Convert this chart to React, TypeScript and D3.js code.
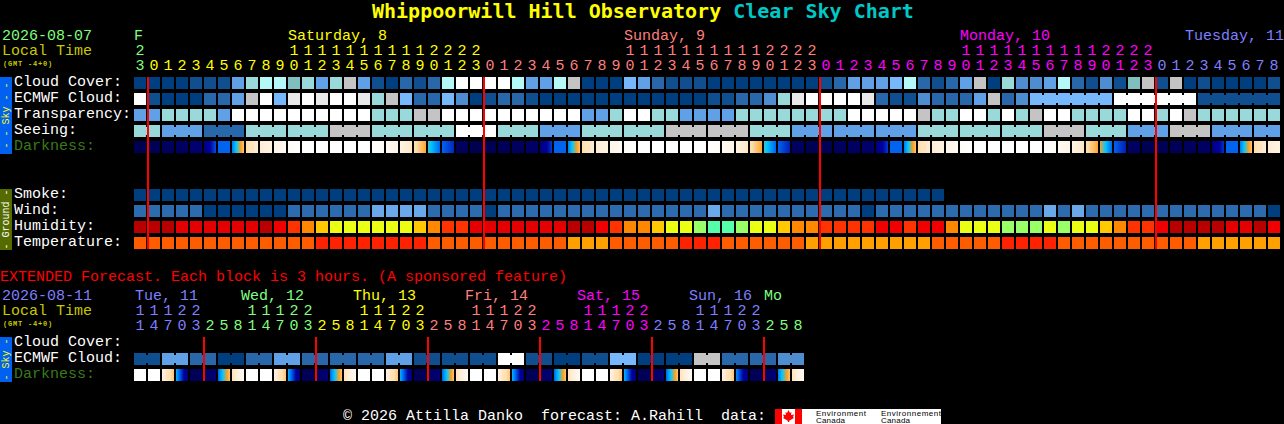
import { useRef, useEffect } from 'react'
import * as d3 from 'd3'

// main chart, one column per hour
const hourLabels = [23,
  0, 1, 2, 3, 4, 5, 6, 7, 8, 9, 10, 11, 12, 13, 14, 15, 16, 17, 18, 19, 20, 21, 22, 23,
  0, 1, 2, 3, 4, 5, 6, 7, 8, 9, 10, 11, 12, 13, 14, 15, 16, 17, 18, 19, 20, 21, 22, 23,
  0, 1, 2, 3, 4, 5, 6, 7, 8, 9, 10, 11, 12, 13, 14, 15, 16, 17, 18, 19, 20, 21, 22, 23,
  0, 1, 2, 3, 4, 5, 6, 7, 8]
const dayBreaks = [1, 25, 49, 73]
const dayColors = ['#7fff7f', '#ffff00', '#ff7f7f', '#ff00ff', '#7f7fff']
const midnightCols = [1, 25, 49, 73]

// sky levels index into skyPalette
const cloudCover = [0,0,0,0,1,1,1,4,7,8,8,6,7,4,7,9,4,1,0,2,1,2,8,11,11,11,11,8,4,4,8,9,0,0,0,5,4,2,1,1,1,0,0,0,0,0,0,0,0,1,2,4,4,4,5,8,2,1,2,4,9,0,7,3,3,4,8,2,1,3,1,6,9,1,9,0,1,0,0,0,0,1]
const ecmwfCloud = [11,1,0,0,0,2,2,4,9,11,5,10,11,10,11,11,10,7,9,5,2,2,5,3,0,1,2,2,1,0,0,0,0,0,0,0,0,0,0,0,0,1,1,2,2,3,7,10,11,11,11,11,10,2,1,1,3,2,2,2,4,9,2,3,5,5,5,5,5,5,11,11,11,11,11,11,1,1,1,1,1,1]
const transparency = [4,4,7,7,7,7,4,11,11,11,11,11,11,11,11,11,11,7,7,7,9,9,11,11,11,11,11,11,11,11,11,11,4,4,7,11,11,7,7,4,4,4,4,7,7,7,7,7,7,7,7,11,11,11,11,11,9,7,7,11,11,7,11,7,9,11,11,7,7,7,7,11,11,7,11,9,7,7,7,7,7,7]
const seeing = [7,7,4,4,4,2,2,2,7,7,7,7,7,7,9,9,9,7,7,7,7,7,7,11,11,11,7,7,7,4,4,4,7,7,7,7,7,7,9,9,9,9,9,9,7,7,7,4,4,4,4,4,4,4,4,4,7,7,7,7,7,7,7,7,7,9,9,9,7,7,7,4,4,4,9,9,9,4,4,4,4,4]
const smoke = [0,0,0,0,0,0,0,0,0,0,0,0,0,0,0,0,0,0,0,0,0,0,0,0,0,0,0,0,0,0,0,0,0,0,0,0,0,0,0,0,0,0,0,0,0,0,0,0,0,0,0,0,0,0,0,0,0,0]
const wind = [2,2,2,2,2,0,0,0,0,0,0,2,2,2,2,2,2,4,4,4,4,2,2,2,2,0,2,2,2,2,2,2,2,2,2,2,2,2,2,2,2,4,2,2,2,2,2,2,2,2,2,2,0,2,2,2,2,2,2,2,2,2,2,2,2,4,2,4,2,2,2,2,2,2,2,2,2,2,2,2,2,0]
const humidity = [0,0,0,1,1,1,1,1,1,0,2,3,4,5,6,6,6,6,6,6,5,4,3,3,1,1,1,1,1,1,1,0,0,2,3,4,4,5,6,6,7,8,8,7,6,6,5,4,4,3,3,3,3,2,2,3,2,2,4,6,6,6,7,7,7,6,7,6,6,5,4,3,3,2,0,0,0,0,1,1,0,2]
const temperature = [1,1,1,1,1,1,1,1,1,1,1,1,1,0,0,0,0,0,0,0,0,1,1,1,1,1,1,1,1,1,1,2,2,2,1,1,1,1,1,0,0,0,1,1,1,1,1,1,2,2,2,2,2,2,2,2,2,1,1,1,1,1,0,0,0,0,1,1,1,1,1,1,1,1,1,1,2,2,2,2,2,2]

// darkness at the left and right edge of each block, 0 is daylight and 8 deep night
const darkStart = [7.9,7.8,7.6,7.5,7.2,6.8,5,4.8,1.9,1.2,.7,.2,0,0,0,0,0,.05,.3,.8,1.8,3.7,5,7.6,7.9,7.8,7.7,7.6,7.4,6.9,5,4.8,1.9,1.2,.7,.2,0,0,0,0,0,.05,.3,.8,1.8,3.7,5,7.5,7.8,7.8,7.6,7.5,7.3,6.8,5,4.8,1.9,1.2,.7,.2,0,0,0,0,0,.05,.3,.8,1.8,3.1,5,7.5,7.8,7.8,7.7,7.6,7.5,6.8,5,4.8,1.9,1.2]
const darkEnd = [7.9,7.8,7.6,7.5,7.2,5.2,5,2.4,1.2,.8,.3,0,0,0,0,0,0,.2,.7,1.4,2.9,5,5.6,7.6,7.9,7.8,7.7,7.6,7.4,5.4,5,2.4,1.2,.8,.3,0,0,0,0,0,0,.2,.7,1.4,2.9,5,5.7,7.5,7.8,7.8,7.6,7.5,7.3,5.4,5,2.4,1.2,.8,.3,0,0,0,0,0,0,.2,.7,1.4,2.9,5,5.7,7.5,7.8,7.8,7.7,7.6,7.5,5.5,5,2.4,1.2,.8]

// extended chart, one column per 3 hours
const extHourLabels = [11, 14, 17, 20, 23,
  2, 5, 8, 11, 14, 17, 20, 23,
  2, 5, 8, 11, 14, 17, 20, 23,
  2, 5, 8, 11, 14, 17, 20, 23,
  2, 5, 8, 11, 14, 17, 20, 23,
  2, 5, 8, 11, 14, 17, 20, 23,
  2, 5, 8]
const extDayBreaks = [5, 13, 21, 29, 37, 45]
const extDayColors = ['#7f7fff', '#7fff7f', '#ffff00', '#ff7f7f', '#ff00ff', '#7f7fff', '#7fff7f']
const extDayNames = ['Tue, 11', 'Wed, 12', 'Thu, 13', 'Fri, 14', 'Sat, 15', 'Sun, 16', 'Mo']
const extDayCols = [0, 8, 16, 24, 32, 40, 45]
const extMidnightCols = [5, 13, 21, 29, 37, 45]
const extEcmwf = [1,1,4,4,2,2,0,0,2,2,4,4,2,2,2,2,2,2,4,4,1,1,1,1,1,1,11,11,1,1,0,0,1,1,5,5,0,0,0,0,9,9,2,2,2,2,3,3]
const extDarkStart = [0,0,.9,4.2,7.7,7.6,5,1.6,0,0,.9,4.2,7.7,7.6,5,1.6,0,0,.9,4.2,7.7,7.6,5,1.6,0,0,.9,4.2,7.7,7.6,5,1.6,0,0,.9,4.2,7.7,7.6,5,1.6,0,0,.9,4.6,7.7,7.6,4.8,1.6]
const extDarkEnd = [0,0,2.4,6.9,7.7,7,2.4,.4,0,0,2.4,6.9,7.7,7,2.4,.4,0,0,2.4,6.9,7.7,7,2.4,.3,0,0,2.4,6.9,7.7,7,2.4,.3,0,0,2.4,6.9,7.7,7,2.4,.3,0,0,2.4,6.9,7.7,7,2.4,.3]

const skyPalette = ['#003f7f', '#0f4f8f', '#2868aa', '#4d8dd0', '#5fa0e6', '#77b7fb', '#7fbfbf', '#99d9d9', '#b5f8f8', '#c4c4c4', '#e9e9e9', '#ffffff']
const windPalette = ['#003f7f', '#0f4f8f', '#2c6cae', '#4d8dd0', '#69a9e9']
const humidityPalette = ['#b80000', '#e40000', '#f00000', '#ff3300', '#ff8800', '#ffc800', '#eaff14', '#99ff66', '#55ffaa']
const temperaturePalette = ['#ff2200', '#ff5c00', '#ffa000']
const darkDomain = [0, 1, 2, 3, 4, 5, 6, 7, 8]
const darkColors = ['#ffffff', '#fff0dc', '#ffdca8', '#ffa020', '#00c8ff', '#0064f0', '#0000a0', '#000078', '#00004c']

const MONO = '"Liberation Mono", monospace'
const TITLE_FONT = '"DejaVu Sans Mono", monospace'
const CELL_STEP = 14

type G = d3.Selection<SVGGElement, unknown, null, undefined>

function columnScale(count: number) {
  return d3.scaleBand<number>()
    .domain(d3.range(count))
    .range([134, 134 + CELL_STEP * count - 2])
    .paddingInner(2 / CELL_STEP)
}

// blocks of the same forecast step are joined by a narrower bridge
function drawRow(
  g: G,
  values: number[],
  x: d3.ScaleBand<number>,
  y: number,
  palette: string[],
  stepOf?: (i: number) => number | null
) {
  const size = x.bandwidth()
  g.selectAll(null)
    .data(values)
    .enter()
    .append('rect')
    .attr('x', (_, i) => x(i)!)
    .attr('y', y)
    .attr('width', size)
    .attr('height', size)
    .attr('fill', d => palette[d])

  if (!stepOf) return
  const bridges = values.slice(0, -1).map((_, i) => i).filter(i => {
    const a = stepOf(i)
    return a !== null && a === stepOf(i + 1)
  })
  g.selectAll(null)
    .data(bridges)
    .enter()
    .append('rect')
    .attr('x', i => x(i)! + size)
    .attr('y', y + 2)
    .attr('width', x.step() - size)
    .attr('height', size - 4)
    .attr('fill', i => palette[values[i]])
}

function drawDarkness(
  svg: d3.Selection<SVGSVGElement, unknown, null, undefined>,
  g: G,
  id: string,
  starts: number[],
  ends: number[],
  x: d3.ScaleBand<number>,
  y: number
) {
  const color = d3.scaleLinear<string>().domain(darkDomain).range(darkColors)
  const defs = svg.append('defs')
  const size = x.bandwidth()
  starts.forEach((start, i) => {
    const end = ends[i]
    let fill = color(start)
    if (start !== end) {
      const grad = defs.append('linearGradient').attr('id', `${id}-${i}`)
      d3.range(0, 13).forEach(k => {
        grad.append('stop')
          .attr('offset', k / 12)
          .attr('stop-color', color(start + (end - start) * k / 12))
      })
      fill = `url(#${id}-${i})`
    }
    g.append('rect')
      .attr('x', x(i)!)
      .attr('y', y)
      .attr('width', size)
      .attr('height', size)
      .attr('fill', fill)
  })
}

function drawHours(
  g: G,
  hours: number[],
  x: d3.ScaleBand<number>,
  color: (i: number) => string,
  tensY: number,
  unitsY: number
) {
  const center = (i: number) => x(i)! + x.bandwidth() / 2
  hours.forEach((h, i) => {
    if (h >= 10) {
      g.append('text').attr('x', center(i)).attr('y', tensY)
        .attr('text-anchor', 'middle').attr('fill', color(i))
        .text(Math.floor(h / 10))
    }
    g.append('text').attr('x', center(i)).attr('y', unitsY)
      .attr('text-anchor', 'middle').attr('fill', color(i))
      .text(h % 10)
  })
}

function label(g: G, x: number, y: number, text: string, fill: string) {
  return g.append('text')
    .attr('x', x)
    .attr('y', y)
    .attr('fill', fill)
    .style('white-space', 'pre')
    .text(text)
}

function gmtNote(g: G, y: number) {
  label(g, 3, y, '(GMT -4+0)', '#c8c800')
    .style('font-size', '7px')
    .style('font-weight', 'bold')
    .style('letter-spacing', '0.8px')
}

function sideStrip(g: G, y0: number, y1: number, fill: string, textFill: string, text: string) {
  g.append('rect').attr('x', 0).attr('y', y0).attr('width', 12).attr('height', y1 - y0).attr('fill', fill)
  g.append('text')
    .attr('transform', `translate(9,${(y0 + y1) / 2}) rotate(-90)`)
    .attr('text-anchor', 'middle')
    .attr('fill', textFill)
    .style('font-size', '10px')
    .style('white-space', 'pre')
    .text(text)
}

export default function App() {
  const svgRef = useRef<SVGSVGElement>(null)

  useEffect(() => {
    if (!svgRef.current) return
    const svg = d3.select(svgRef.current)
    svg.selectAll('*').remove()

    svg.append('rect').attr('width', 1284).attr('height', 424).attr('fill', '#000')

    const root = svg.append('g')
      .style('font-family', MONO)
      .style('font-size', '15px') as unknown as G

    // title
    const title = root.append('text')
      .attr('x', 372).attr('y', 18)
      .style('font-family', TITLE_FONT)
      .style('font-size', '20px')
      .style('font-weight', 'bold')
      .style('white-space', 'pre')
    title.append('tspan').attr('fill', '#ffff00').text('Whippoorwill Hill Observatory')
    title.append('tspan').attr('fill', '#00c8c8').text(' Clear Sky Chart')

    // main chart
    const x = columnScale(hourLabels.length)
    const dayColor = d3.scaleThreshold<number, string>().domain(dayBreaks).range(dayColors)
    label(root, 2, 40, '2026-08-07', '#7fff7f')
    label(root, 2, 55, 'Local Time', '#c8c800')
    gmtNote(root, 65.5)
    label(root, 134, 40, 'F', dayColors[0])
    label(root, 288, 40, 'Saturday, 8', dayColors[1])
    label(root, 624, 40, 'Sunday, 9', dayColors[2])
    label(root, 960, 40, 'Monday, 10', dayColors[3])
    label(root, 1185, 40, 'Tuesday, 11', dayColors[4])
    drawHours(root, hourLabels, x, i => dayColor(i), 55, 70)

    const rowY = d3.scaleLinear().domain([0, 1]).range([77, 93])
    const rowNames = ['Cloud Cover:', 'ECMWF Cloud:', 'Transparency:', 'Seeing:', 'Darkness:']
    rowNames.forEach((name, i) => {
      label(root, 14, rowY(i) + 9, name, name === 'Darkness:' ? '#3a7a1a' : '#fff')
    })
    const groundNames = ['Smoke:', 'Wind:', 'Humidity:', 'Temperature:']
    groundNames.forEach((name, i) => {
      label(root, 14, rowY(i + 7) + 9, name, '#fff')
    })

    const rows = root.append('g').attr('shape-rendering', 'crispEdges') as unknown as G
    drawRow(rows, cloudCover, x, rowY(0), skyPalette)
    drawRow(rows, ecmwfCloud, x, rowY(1), skyPalette, i => (i < 64 ? null : Math.floor((i - 64) / 6)))
    drawRow(rows, transparency, x, rowY(2), skyPalette)
    drawRow(rows, seeing, x, rowY(3), skyPalette, i => Math.floor((i + 1) / 3))
    drawDarkness(svg, rows, 'dark', darkStart, darkEnd, x, rowY(4))
    drawRow(rows, smoke, x, rowY(7), skyPalette)
    drawRow(rows, wind, x, rowY(8), windPalette)
    drawRow(rows, humidity, x, rowY(9), humidityPalette)
    drawRow(rows, temperature, x, rowY(10), temperaturePalette)

    rows.selectAll(null)
      .data(midnightCols)
      .enter()
      .append('rect')
      .attr('x', d => x(d)! - 1)
      .attr('y', rowY(0))
      .attr('width', 2)
      .attr('height', rowY(10) + 12 - rowY(0))
      .attr('fill', '#ff0000')

    sideStrip(root, 77, 154, '#0060f0', '#ffff00', '- - Sky - -')
    sideStrip(root, 189, 250, '#556b00', '#ffffff', '- Ground -')

    // extended forecast
    label(root, 0, 281, 'EXTENDED Forecast. Each block is 3 hours. (A sponsored feature)', '#ff0000')
    const xExt = columnScale(extHourLabels.length)
    const extColor = d3.scaleThreshold<number, string>().domain(extDayBreaks).range(extDayColors)
    label(root, 2, 300, '2026-08-11', '#7f7fff')
    label(root, 2, 315, 'Local Time', '#c8c800')
    gmtNote(root, 325.5)
    extDayNames.forEach((name, i) => {
      const col = extDayCols[i]
      const nudge = i === 0 ? 1 : i === extDayNames.length - 1 ? 0 : -5
      label(root, xExt(col)! + nudge, 300, name, extColor(col))
    })
    drawHours(root, extHourLabels, xExt, i => extColor(i), 315, 330)

    label(root, 14, 346, 'Cloud Cover:', '#fff')
    label(root, 14, 362, 'ECMWF Cloud:', '#fff')
    label(root, 14, 378, 'Darkness:', '#3a7a1a')

    const extRows = root.append('g').attr('shape-rendering', 'crispEdges') as unknown as G
    drawRow(extRows, extEcmwf, xExt, 353, skyPalette, i => Math.floor(i / 2))
    drawDarkness(svg, extRows, 'ext-dark', extDarkStart, extDarkEnd, xExt, 369)
    extRows.selectAll(null)
      .data(extMidnightCols)
      .enter()
      .append('rect')
      .attr('x', d => xExt(d)! - 1)
      .attr('y', 337)
      .attr('width', 2)
      .attr('height', 44)
      .attr('fill', '#ff0000')

    sideStrip(root, 337, 382, '#0060f0', '#ffff00', '- Sky -')

    // footer
    label(root, 343, 420, '\u00a9 2026 Attilla Danko  forecast: A.Rahill  data:', '#fff')
    root.append('rect').attr('x', 775).attr('y', 409).attr('width', 166).attr('height', 15).attr('fill', '#fff')
    root.append('rect').attr('x', 775).attr('y', 409).attr('width', 7).attr('height', 15).attr('fill', '#ff0000')
    root.append('rect').attr('x', 795).attr('y', 409).attr('width', 7).attr('height', 15).attr('fill', '#ff0000')
    root.append('path')
      .attr('transform', 'translate(788.5,416)')
      .attr('d', 'M0,-6 L1.5,-3 L3,-4 L2.5,-1 L5.5,-1.5 L4.5,1 L5.5,2 L1,4.5 L0.5,6 L-0.5,6 L-1,4.5 L-5.5,2 L-4.5,1 L-5.5,-1.5 L-2.5,-1 L-3,-4 L-1.5,-3 Z')
      .attr('fill', '#ff0000')
    const agency = ['Environment', 'Environnement']
    agency.forEach((name, i) => {
      const left = i === 0 ? 816 : 881
      root.append('text').attr('x', left).attr('y', 415.5).attr('fill', '#000')
        .attr('textLength', i === 0 ? 50 : 60)
        .style('font-family', '"Liberation Sans", sans-serif').style('font-size', '8px').text(name)
      root.append('text').attr('x', left).attr('y', 422.5).attr('fill', '#000')
        .attr('textLength', 29)
        .style('font-family', '"Liberation Sans", sans-serif').style('font-size', '8px').text('Canada')
    })
  }, [])

  return (
    <svg
      ref={svgRef}
      width={1284}
      height={424}
      style={{ position: 'absolute', left: 0, top: 0, display: 'block' }}
    />
  )
}
